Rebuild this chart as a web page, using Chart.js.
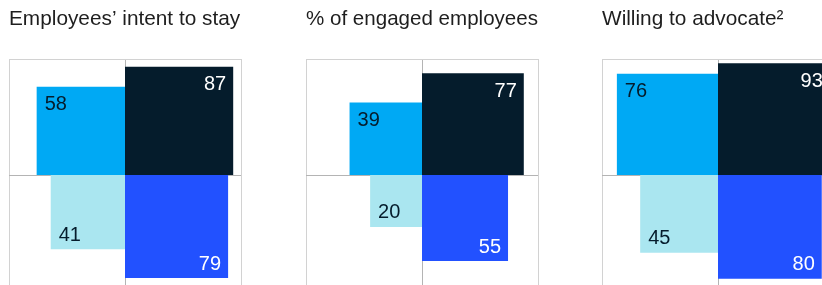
<!DOCTYPE html>
<html>
<head>
<meta charset="utf-8">
<script src="https://cdn.jsdelivr.net/npm/chart.js@4.4.1/dist/chart.umd.min.js"></script>
<style>
  html, body { margin: 0; padding: 0; background: #fff; width: 822px; height: 285px; overflow: hidden; position: relative; }
  .panel { position: absolute; top: 0; }
</style>
</head>
<body>
<div class="panel" style="left:7px"><canvas id="panel-0" width="236" height="293"></canvas></div>
<div class="panel" style="left:304px"><canvas id="panel-1" width="236" height="293"></canvas></div>
<div class="panel" style="left:600px"><canvas id="panel-2" width="236" height="293"></canvas></div>
<script>
// Quadrant squares: area of each square is proportional to the value,
// the frame around a panel stands for 100 (side = sqrt(100) = 10 units)
const panelTitles = ['Employees\u2019 intent to stay', '% of engaged employees', 'Willing to advocate\u00b2'];
const topLeftValues = [58, 39, 76];
const topRightValues = [87, 77, 93];
const bottomLeftValues = [41, 20, 45];
const bottomRightValues = [79, 55, 80];
const frameSide = 10;

const FONT = '"Liberation Sans", Arial, sans-serif';

const quadrants = [
  { values: topLeftValues, sx: -1, sy: 1, fill: '#00A9F4', ink: '#051C2C' },
  { values: topRightValues, sx: 1, sy: 1, fill: '#051C2C', ink: '#ffffff' },
  { values: bottomLeftValues, sx: -1, sy: -1, fill: '#AAE6F0', ink: '#051C2C' },
  { values: bottomRightValues, sx: 1, sy: -1, fill: '#2251FF', ink: '#ffffff' }
];

// square side in pixels for a value
function sidePx(chart, v) {
  const x = chart.scales.x;
  return x.getPixelForValue(Math.sqrt(v)) - x.getPixelForValue(0);
}

// value written in the outer corner of each square
const cornerLabels = {
  id: 'cornerLabels',
  afterDatasetsDraw(chart) {
    const ctx = chart.ctx;
    ctx.save();
    ctx.font = '20px ' + FONT;
    ctx.textBaseline = 'alphabetic';
    chart.data.datasets.forEach((ds, di) => {
      const q = quadrants[di];
      chart.getDatasetMeta(di).data.forEach((el, i) => {
        const half = sidePx(chart, ds.data[i].v) / 2;
        const left = el.x - half, right = el.x + half;
        const top = el.y - half, bottom = el.y + half;
        ctx.fillStyle = q.ink;
        ctx.textAlign = q.sx < 0 ? 'left' : 'right';
        const tx = q.sx < 0 ? left + 8 : right - 7;
        const ty = q.sy > 0 ? top + 23.5 : bottom - 8.5;
        ctx.fillText(String(ds.data[i].v), tx, ty);
      });
    });
    ctx.restore();
  }
};

function gridColor(c) {
  return c.tick && c.tick.value === 0 ? '#b4b4b4' : '#d2d2d2';
}

panelTitles.forEach((title, p) => {
  const datasets = quadrants.map(q => {
    const v = q.values[p];
    const s = Math.sqrt(v);
    return {
      data: [{ x: q.sx * s / 2, y: q.sy * s / 2, v: v }],
      pointStyle: 'rect',
      backgroundColor: q.fill,
      pointBackgroundColor: q.fill,
      pointBorderWidth: 0,
      pointHoverBorderWidth: 0,
      pointRadius: ctx => {
        const side = sidePx(ctx.chart, ctx.raw ? ctx.raw.v : 0);
        return isFinite(side) ? side / Math.SQRT2 : 0;
      },
      clip: false
    };
  });

  new Chart(document.getElementById('panel-' + p), {
    type: 'scatter',
    data: { datasets: datasets },
    options: {
      responsive: false,
      animation: false,
      events: [],
      layout: { autoPadding: false, padding: { left: 2, right: 2, top: 0, bottom: 2 } },
      plugins: {
        legend: { display: false },
        tooltip: { enabled: false },
        title: {
          display: true,
          text: title,
          align: 'start',
          color: '#1e1e1e',
          font: { family: FONT, size: 20.8, weight: 'normal', lineHeight: 1.2 },
          padding: { top: 7, bottom: 27.04 }
        }
      },
      scales: {
        x: {
          type: 'linear',
          min: -frameSide,
          max: frameSide,
          z: 1,
          border: { display: false },
          ticks: { display: false, stepSize: frameSide },
          grid: { drawTicks: false, color: gridColor, lineWidth: 1 }
        },
        y: {
          type: 'linear',
          min: -frameSide,
          max: frameSide,
          z: 1,
          border: { display: false },
          ticks: { display: false, stepSize: frameSide },
          grid: { drawTicks: false, color: gridColor, lineWidth: 1 }
        }
      }
    },
    plugins: [cornerLabels]
  });
});
</script>
</body>
</html>
